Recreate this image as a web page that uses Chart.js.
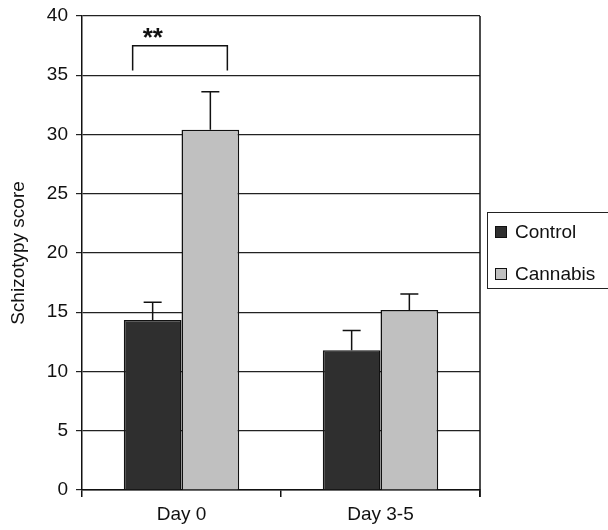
<!DOCTYPE html>
<html>
<head>
<meta charset="utf-8">
<script src="https://cdn.jsdelivr.net/npm/chart.js@4.4.0/dist/chart.umd.min.js"></script>
<style>
  html, body { margin: 0; padding: 0; background: #fff; }
  #wrap { width: 608px; height: 530px; }
</style>
</head>
<body>
<div id="wrap"><canvas id="chart"></canvas></div>
<script>
const categories = ['Day 0', 'Day 3-5'];
const controlMeans = [14.35, 11.8];
const controlErrors = [1.5, 1.65];
const cannabisMeans = [30.4, 15.2];
const cannabisErrors = [3.2, 1.35];
const yTicks = [0, 5, 10, 15, 20, 25, 30, 35, 40];

const font = 'Liberation Sans, Arial, sans-serif';

// error bars (upward only), significance bracket, legend, right border
const extras = {
    id: 'extras',
    afterDatasetsDraw(chart) {
        const ctx = chart.ctx;
        const y = chart.scales.y;
        const area = chart.chartArea;
        const errs = [controlErrors, cannabisErrors];

        ctx.save();
        ctx.strokeStyle = '#111';
        ctx.lineWidth = 1.5;
        chart.data.datasets.forEach((ds, i) => {
            chart.getDatasetMeta(i).data.forEach((bar, j) => {
                const top = y.getPixelForValue(ds.data[j] + errs[i][j]);
                ctx.beginPath();
                ctx.moveTo(bar.x, bar.y);
                ctx.lineTo(bar.x, top);
                ctx.moveTo(bar.x - 9, top);
                ctx.lineTo(bar.x + 9, top);
                ctx.stroke();
            });
        });

        // right border
        ctx.beginPath();
        ctx.moveTo(area.right, area.top);
        ctx.lineTo(area.right, area.bottom + 7);
        ctx.stroke();

        // ** bracket over Day 0
        const b0 = chart.getDatasetMeta(0).data[0];
        const b1 = chart.getDatasetMeta(1).data[0];
        const left = b0.x - 20;
        const right = b1.x + 17;
        const yb = y.getPixelForValue(37.5);
        const yl = y.getPixelForValue(35.4);
        ctx.beginPath();
        ctx.moveTo(left, yl);
        ctx.lineTo(left, yb);
        ctx.lineTo(right, yb);
        ctx.lineTo(right, yl);
        ctx.stroke();
        ctx.fillStyle = '#111';
        ctx.font = 'bold 26px ' + font;
        ctx.textAlign = 'left';
        ctx.textBaseline = 'middle';
        ctx.fillText('**', left + 10, yb - 7);

        // legend
        ctx.lineWidth = 1;
        ctx.strokeStyle = '#222';
        ctx.strokeRect(487.5, 212.5, 125, 76);
        const items = [['Control', '#2f2f2f'], ['Cannabis', '#c0c0c0']];
        ctx.font = '19px ' + font;
        items.forEach((it, k) => {
            const cy = 232 + k * 42;
            ctx.fillStyle = it[1];
            ctx.fillRect(495, cy - 6, 12, 12);
            ctx.strokeStyle = '#111';
            ctx.strokeRect(495.5, cy - 5.5, 11, 11);
            ctx.fillStyle = '#111';
            ctx.fillText(it[0], 515, cy + 1);
        });
        ctx.restore();
    }
};

new Chart(document.getElementById('chart'), {
    type: 'bar',
    data: {
        labels: categories,
        datasets: [{
            label: 'Control',
            data: controlMeans,
            backgroundColor: '#2f2f2f',
            borderColor: '#111',
            borderWidth: 1.5,
            categoryPercentage: 0.58,
            barPercentage: 1
        }, {
            label: 'Cannabis',
            data: cannabisMeans,
            backgroundColor: '#c0c0c0',
            borderColor: '#111',
            borderWidth: 1.5,
            categoryPercentage: 0.58,
            barPercentage: 1
        }]
    },
    options: {
        responsive: true,
        maintainAspectRatio: false,
        animation: false,
        layout: { padding: { top: 16, right: 128, left: 5, bottom: 0 } },
        plugins: {
            legend: { display: false },
            tooltip: { enabled: false }
        },
        scales: {
            x: {
                grid: { offset: true, drawOnChartArea: false, drawTicks: true, tickLength: 7, color: '#111', lineWidth: 1.5 },
                border: { color: '#111', width: 1.5 },
                ticks: { color: '#111', font: { family: font, size: 19 }, padding: 6 },
                afterFit: s => { s.height = 40; }
            },
            y: {
                min: 0,
                max: 40,
                afterBuildTicks: s => { s.ticks = yTicks.map(v => ({ value: v })); },
                grid: { color: '#222', lineWidth: 1.2, tickLength: 6 },
                border: { color: '#111', width: 1.5 },
                ticks: { color: '#111', font: { family: font, size: 19 }, padding: 8 },
                title: { display: true, text: 'Schizotypy score', color: '#111', font: { family: font, size: 19 }, padding: 2 },
                afterFit: s => { s.width = 77; s.paddingTop = 0; s.paddingBottom = 0; }
            }
        }
    },
    plugins: [extras]
});
</script>
</body>
</html>
